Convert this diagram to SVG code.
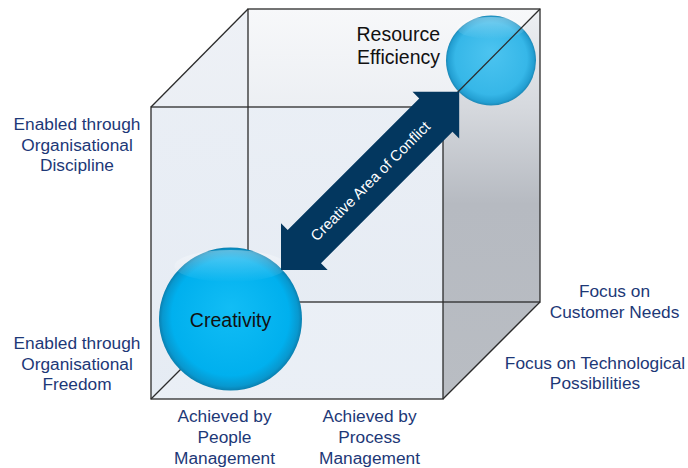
<svg xmlns="http://www.w3.org/2000/svg" width="688" height="468" viewBox="0 0 688 468">
  <defs>
    <linearGradient id="gBack" x1="0" y1="0" x2="0" y2="1">
      <stop offset="0" stop-color="#f5f7fa"/>
      <stop offset="1" stop-color="#e3e8ef"/>
    </linearGradient>
    <linearGradient id="gTop" x1="0" y1="0" x2="0" y2="1">
      <stop offset="0" stop-color="#f7f8fa"/>
      <stop offset="1" stop-color="#eceff3"/>
    </linearGradient>
    <linearGradient id="gLeft" x1="0" y1="0" x2="0" y2="1">
      <stop offset="0" stop-color="#eef1f6"/>
      <stop offset="1" stop-color="#e3e9f1"/>
    </linearGradient>
    <linearGradient id="gFront" x1="0" y1="0" x2="0" y2="1">
      <stop offset="0" stop-color="#e9eef5"/>
      <stop offset="1" stop-color="#e6ecf4"/>
    </linearGradient>
    <linearGradient id="gRight" gradientUnits="userSpaceOnUse" x1="0" y1="9" x2="0" y2="399">
      <stop offset="0" stop-color="#eef0f3"/>
      <stop offset="0.25" stop-color="#d6d9de"/>
      <stop offset="0.5" stop-color="#b6bac1"/>
      <stop offset="1" stop-color="#b9bdc3"/>
    </linearGradient>
    <radialGradient id="gCreat" cx="0.5" cy="0.5" r="0.5" fx="0.5" fy="0.42">
      <stop offset="0" stop-color="#12bdf5"/>
      <stop offset="0.82" stop-color="#00b0ee"/>
      <stop offset="0.95" stop-color="#0898cf"/>
      <stop offset="1" stop-color="#0a80b0"/>
    </radialGradient>
    <radialGradient id="gRes" cx="0.5" cy="0.5" r="0.5" fx="0.5" fy="0.4">
      <stop offset="0" stop-color="#4cc4f0"/>
      <stop offset="0.8" stop-color="#36b7e8"/>
      <stop offset="0.95" stop-color="#239fd2"/>
      <stop offset="1" stop-color="#1c88b6"/>
    </radialGradient>
    <linearGradient id="gShine" x1="0" y1="0" x2="0" y2="1">
      <stop offset="0" stop-color="#ffffff" stop-opacity="0.7"/>
      <stop offset="1" stop-color="#ffffff" stop-opacity="0"/>
    </linearGradient>
  </defs>
  <style>
    .edge { stroke: #2b2b2b; stroke-width: 1.3; fill: none; }
    .lbl { font-family: "Liberation Sans", Arial, sans-serif; font-size: 17.3px; fill: #1d3877; text-anchor: middle; }
    .node { font-family: "Liberation Sans", Arial, sans-serif; font-size: 19.5px; fill: #111111; }
    .arrowtxt { font-family: "Liberation Sans", Arial, sans-serif; font-size: 15px; fill: #ffffff; text-anchor: middle; }
  </style>

  <g id="cube">
    <rect x="248" y="9" width="292" height="293" fill="url(#gBack)"/>
    <polygon points="151,107 248,9 540,9 443,107" fill="url(#gTop)"/>
    <polygon points="151,107 248,9 248,302 151,399" fill="url(#gLeft)"/>
    <polygon points="443,107 540,9 540,302 443,399" fill="url(#gRight)"/>
    <rect x="151" y="107" width="292" height="292" fill="url(#gFront)" fill-opacity="0.85"/>
    <rect class="edge" x="248" y="9" width="292" height="293"/>
    <rect class="edge" x="151" y="107" width="292" height="292"/>
    <line class="edge" x1="151" y1="107" x2="248" y2="9"/>
    <line class="edge" x1="151" y1="399" x2="248" y2="302"/>
    <line class="edge" x1="443" y1="399" x2="540" y2="302"/>
  </g>

  <g id="creativity">
    <circle cx="230.5" cy="319" r="71.5" fill="url(#gCreat)"/>
    <ellipse cx="230.5" cy="266" rx="56" ry="16" fill="url(#gShine)" opacity="0.5"/>
    <text class="node" x="230.5" y="327" text-anchor="middle">Creativity</text>
  </g>

  <g id="resource-efficiency">
    <circle cx="491" cy="60.5" r="45" fill="url(#gRes)"/>
    <ellipse cx="491" cy="28" rx="34" ry="11" fill="url(#gShine)" opacity="0.5"/>
    <text class="node" x="440" y="41" text-anchor="end">Resource</text>
    <text class="node" x="440" y="64" text-anchor="end">Efficiency</text>
  </g>

  <g id="connectors">
    <line class="edge" x1="443" y1="107" x2="540" y2="9"/>
    <g transform="translate(281,270) rotate(-45)">
      <polygon points="0,0 33,-33 33,-23.5 219,-23.5 219,-33 252,0 219,33 219,23.5 33,23.5 33,33" fill="#03375f"/>
      <text class="arrowtxt" x="126" y="0" dominant-baseline="central">Creative Area of Conflict</text>
    </g>
  </g>

  <g id="labels-left">
    <text class="lbl" x="77" y="130">Enabled through</text>
    <text class="lbl" x="77" y="151">Organisational</text>
    <text class="lbl" x="77" y="171">Discipline</text>
    <text class="lbl" x="77" y="349">Enabled through</text>
    <text class="lbl" x="77" y="370">Organisational</text>
    <text class="lbl" x="77" y="390">Freedom</text>
  </g>
  <g id="labels-bottom">
    <text class="lbl" x="224.5" y="422">Achieved by</text>
    <text class="lbl" x="224.5" y="443">People</text>
    <text class="lbl" x="224.5" y="464">Management</text>
    <text class="lbl" x="369.5" y="422">Achieved by</text>
    <text class="lbl" x="369.5" y="443">Process</text>
    <text class="lbl" x="369.5" y="464">Management</text>
  </g>
  <g id="labels-right">
    <text class="lbl" x="614.5" y="297">Focus on</text>
    <text class="lbl" x="614.5" y="318">Customer Needs</text>
    <text class="lbl" x="595" y="369">Focus on Technological</text>
    <text class="lbl" x="595" y="389">Possibilities</text>
  </g>
</svg>
